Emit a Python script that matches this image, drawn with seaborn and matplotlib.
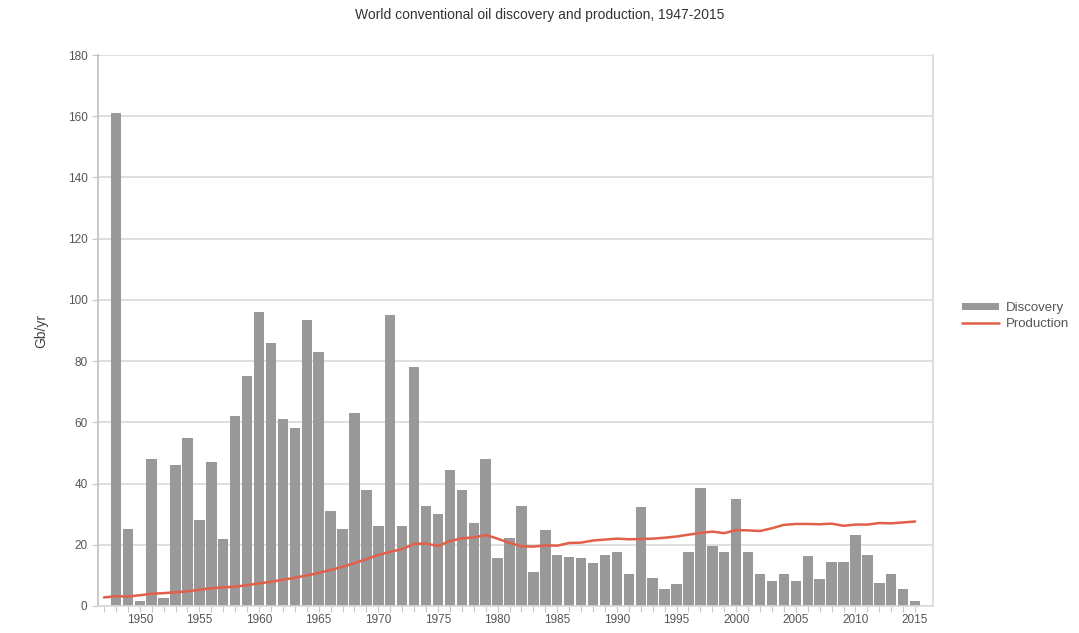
import matplotlib
matplotlib.use("Agg")
import matplotlib.pyplot as plt
import numpy as np
import pandas as pd
import seaborn as sns

# discovery (Gb/yr), 1948-2015
disc_years = list(range(1948, 2016))
discovery = [161, 25, 1.5, 48, 2.5, 46, 55, 28, 47, 22,
             62, 75, 96, 86, 61, 58, 93.5, 83, 31, 25,
             63, 38, 26, 95, 26, 78, 32.6, 30.2, 44.5, 37.8,
             27.2, 47.9, 15.7, 22.1, 32.6, 11.2, 24.8, 16.7, 16, 15.7,
             13.9, 16.7, 17.5, 10.3, 32.4, 9, 5.4, 7.3, 17.5, 38.5,
             19.7, 17.5, 34.8, 17.5, 10.6, 8.2, 10.3, 8.2, 16.4, 8.8,
             14.5, 14.5, 23.3, 16.7, 7.6, 10.6, 5.4, 1.6]

# production (Gb/yr), 1947-2015
prod_years = list(range(1947, 2016))
production = [2.8, 3.2, 3.1, 3.5, 4.0, 4.2, 4.5, 4.8, 5.3, 5.8,
              6.1, 6.3, 6.8, 7.4, 7.9, 8.6, 9.2, 10.0, 10.8, 11.8,
              12.8, 14.0, 15.3, 16.7, 17.7, 18.6, 20.3, 20.4, 19.6, 21.2,
              22.1, 22.4, 23.2, 22.0, 20.6, 19.5, 19.4, 19.8, 19.7, 20.6,
              20.7, 21.4, 21.7, 22.0, 21.8, 21.9, 22.0, 22.3, 22.7, 23.3,
              23.9, 24.3, 23.8, 24.8, 24.7, 24.5, 25.4, 26.5, 26.8, 26.8,
              26.7, 26.9, 26.2, 26.6, 26.6, 27.1, 27.0, 27.3, 27.6]

year_ticks = list(range(1950, 2016, 5))
y_ticks = list(range(0, 181, 20))

title = "World conventional oil discovery and production, 1947-2015"

sns.set_style("white")
plt.rcParams['font.family'] = ['Liberation Sans', 'DejaVu Sans']

fig = plt.figure(figsize=(10.79, 6.33), dpi=100)
ax = fig.add_axes([98 / 1079, 1 - 606 / 633, (933 - 98) / 1079, (606 - 55) / 633])

df_disc = pd.DataFrame({'year': disc_years, 'value': discovery})
df_prod = pd.DataFrame({'year': prod_years, 'value': production})

sns.barplot(data=df_disc, x='year', y='value', native_scale=True, width=0.88,
            color='#999999', saturation=1, linewidth=0, label='Discovery', ax=ax, zorder=2)
sns.lineplot(data=df_prod, x='year', y='value', color='#e2604a', linewidth=1.8,
             label='Production', ax=ax, zorder=3)

ax.set_xlim(1946.5, 2016.5)
ax.set_ylim(0, 180)
ax.set_yticks(y_ticks)
ax.set_xticks(year_ticks)
ax.set_xticks(prod_years, minor=True)
ax.grid(axis='y', color='#d9d9d9', linewidth=1.2, zorder=0)
ax.set_axisbelow(True)

for side in ['left', 'right', 'bottom', 'top']:
    ax.spines[side].set_color('#d9d9d9')
    ax.spines[side].set_linewidth(1.2)
ax.spines['top'].set_visible(False)
ax.spines['left'].set_color('#c0c0c0')

ax.tick_params(axis='both', which='both', length=4, width=0.8, color='#c8c8c8',
               labelsize=8.5, labelcolor='#555555', bottom=True, left=True)
ax.tick_params(axis='x', pad=2)

ax.set_xlabel('')
ax.set_ylabel('Gb/yr', fontsize=10, color='#444444', labelpad=14)
fig.text(0.5, 1 - 15 / 633, title, ha='center', va='center', fontsize=10, color='#333333')

handles, labels = ax.get_legend_handles_labels()
order = [labels.index('Discovery'), labels.index('Production')]
ax.legend([handles[i] for i in order], [labels[i] for i in order],
          loc='upper left', bbox_to_anchor=(957 / 1079, 1 - 297 / 633),
          bbox_transform=fig.transFigure, frameon=False, fontsize=9.5,
          handlelength=2.8, handleheight=0.45, handletextpad=0.5, labelspacing=0.3,
          labelcolor='#555555', borderaxespad=0)

plt.savefig('out.png', dpi=100)
plt.close()
